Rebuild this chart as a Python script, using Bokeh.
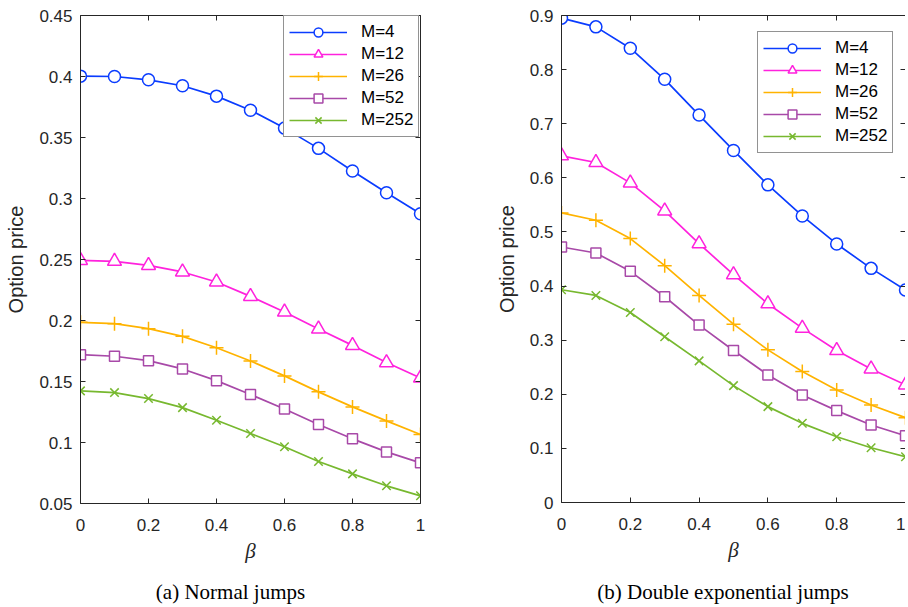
from bokeh.plotting import figure
from bokeh.layouts import row, column
from bokeh.models import LinearAxis, FixedTicker, Range1d, Div
from bokeh.embed import file_html
from bokeh.resources import INLINE

# ---------------- data ----------------
beta = [0.0, 0.1, 0.2, 0.3, 0.4, 0.5, 0.6, 0.7, 0.8, 0.9, 1.0]
series_labels = ["M=4", "M=12", "M=26", "M=52", "M=252"]

# (a) Normal jumps
normal_M4 = [0.4003, 0.4000, 0.3973, 0.3924, 0.3839, 0.3724, 0.3577, 0.3411, 0.3225, 0.3047, 0.2875]
normal_M12 = [0.2493, 0.2485, 0.2452, 0.2398, 0.2316, 0.2198, 0.2070, 0.1930, 0.1796, 0.1655, 0.1529]
normal_M26 = [0.1985, 0.1974, 0.1933, 0.1870, 0.1777, 0.1668, 0.1546, 0.1415, 0.1292, 0.1177, 0.1065]
normal_M52 = [0.1720, 0.1707, 0.1671, 0.1603, 0.1507, 0.1393, 0.1275, 0.1147, 0.1030, 0.0923, 0.0833]
normal_M252 = [0.1423, 0.1409, 0.1360, 0.1286, 0.1183, 0.1074, 0.0965, 0.0844, 0.0743, 0.0645, 0.0563]

# (b) Double exponential jumps
dexp_M4 = [0.8951, 0.8790, 0.8395, 0.7821, 0.7160, 0.6506, 0.5870, 0.5296, 0.4778, 0.4327, 0.3926]
dexp_M12 = [0.6407, 0.6284, 0.5907, 0.5389, 0.4784, 0.4210, 0.3673, 0.3222, 0.2809, 0.2469, 0.2173]
dexp_M26 = [0.5352, 0.5216, 0.4877, 0.4377, 0.3827, 0.3296, 0.2821, 0.2420, 0.2080, 0.1802, 0.1568]
dexp_M52 = [0.4722, 0.4611, 0.4272, 0.3802, 0.3278, 0.2809, 0.2358, 0.1988, 0.1698, 0.1432, 0.1235]
dexp_M252 = [0.3932, 0.3827, 0.3512, 0.3062, 0.2617, 0.2160, 0.1772, 0.1463, 0.1216, 0.1012, 0.0846]

x_ticks = [0, 0.2, 0.4, 0.6, 0.8, 1.0]
x_tick_labels = ["0", "0.2", "0.4", "0.6", "0.8", "1"]
yA_ticks = [0.05, 0.1, 0.15, 0.2, 0.25, 0.3, 0.35, 0.4, 0.45]
yA_tick_labels = ["0.05", "0.1", "0.15", "0.2", "0.25", "0.3", "0.35", "0.4", "0.45"]
yB_ticks = [0, 0.1, 0.2, 0.3, 0.4, 0.5, 0.6, 0.7, 0.8, 0.9]
yB_tick_labels = ["0", "0.1", "0.2", "0.3", "0.4", "0.5", "0.6", "0.7", "0.8", "0.9"]

captions = ["(a) Normal jumps", "(b) Double exponential jumps"]
x_label = "\u03b2"
y_label = "Option price"

# ---------------- styles ----------------
colors = ["#0a3cff", "#ff22dd", "#ffb300", "#a849a8", "#77b82f"]
markers = ["circle", "triangle", "cross", "square", "x"]
msizes = [12, 14, 14, 10, 12]
AX = "#262626"
SANS = "Liberation Sans"
SERIF = "Liberation Serif"


def style_axis(ax, ticks, labels, show_labels=True):
    ax.ticker = FixedTicker(ticks=ticks)
    ax.major_label_overrides = {t: l for t, l in zip(ticks, labels)}
    ax.minor_tick_line_color = None
    ax.major_tick_in = 5
    ax.major_tick_out = 0
    ax.axis_line_color = AX
    ax.major_tick_line_color = AX
    ax.axis_line_width = 1
    ax.major_label_text_color = AX
    ax.major_label_text_font = SANS
    ax.major_label_text_font_size = "17px"
    if not show_labels:
        # tick marks only: labels are not drawn and take (almost) no room
        ax.major_label_text_color = None
        ax.major_label_text_font_size = "1px"
        ax.major_label_standoff = 0


def make_panel(series, yticks, ylabels, y_range, width, height,
               frame_w, frame_h, b_left, b_right, b_top, b_bottom, legend_xy):
    p = figure(width=width, height=height, frame_width=frame_w, frame_height=frame_h,
               x_range=Range1d(0, 1.0), y_range=Range1d(*y_range),
               output_backend="svg", toolbar_location=None,
               min_border_left=b_left, min_border_right=b_right,
               min_border_top=b_top, min_border_bottom=b_bottom)
    p.grid.visible = False
    p.outline_line_color = None
    p.background_fill_color = "white"
    p.border_fill_color = "white"

    style_axis(p.xaxis[0], x_ticks, x_tick_labels)
    p.xaxis[0].major_label_standoff = 15
    p.xaxis[0].axis_label = x_label
    p.xaxis[0].axis_label_text_font = SERIF
    p.xaxis[0].axis_label_text_font_style = "italic"
    p.xaxis[0].axis_label_text_font_size = "21px"
    p.xaxis[0].axis_label_text_color = AX
    p.xaxis[0].axis_label_standoff = 5

    style_axis(p.yaxis[0], yticks, ylabels)
    p.yaxis[0].major_label_standoff = 8
    p.yaxis[0].axis_label = y_label
    p.yaxis[0].axis_label_text_font = SANS
    p.yaxis[0].axis_label_text_font_style = "normal"
    p.yaxis[0].axis_label_text_font_size = "20px"
    p.yaxis[0].axis_label_text_color = AX
    p.yaxis[0].axis_label_standoff = 9

    top = LinearAxis()
    style_axis(top, x_ticks, x_tick_labels, show_labels=False)
    p.add_layout(top, "above")
    rgt = LinearAxis()
    style_axis(rgt, yticks, ylabels, show_labels=False)
    p.add_layout(rgt, "right")

    for ys, lab, c, m, s in zip(series, series_labels, colors, markers, msizes):
        p.line(beta, ys, line_color=c, line_width=1.7, legend_label=lab)
        p.scatter(beta, ys, marker=m, size=s, line_color=c, line_width=1.5,
                  fill_color="white" if m in ("circle", "triangle", "square") else None,
                  legend_label=lab)

    lg = p.legend[0]
    lg.location = legend_xy
    lg.label_text_font = SANS
    lg.label_text_font_size = "17px"
    lg.label_text_color = "black"
    lg.glyph_width = 58
    lg.glyph_height = 22
    lg.label_height = 22
    lg.spacing = 0
    lg.padding = 5
    lg.label_standoff = 14
    lg.margin = 0
    lg.border_line_color = AX
    lg.border_line_width = 1
    lg.background_fill_color = "white"
    lg.background_fill_alpha = 1
    return p


pA = make_panel([normal_M4, normal_M12, normal_M26, normal_M52, normal_M252],
                yA_ticks, yA_tick_labels, (0.05, 0.45),
                461, 568, 340, 488, 80, 40, 13, 65, (203, 366))

pB = make_panel([dexp_M4, dexp_M12, dexp_M26, dexp_M52, dexp_M252],
                yB_ticks, yB_tick_labels, (0, 0.9),
                446, 568, 344, 487, 101, 0, 15, 64, (196, 349))

cap_style = {"font-family": SERIF, "font-size": "21px", "color": "black",
             "text-align": "center", "line-height": "24px", "padding-top": "14px"}
capA = Div(text=captions[0], width=461, height=38, margin=0, styles=dict(cap_style))
capB = Div(text=captions[1], width=446, height=38, margin=0,
           styles=dict(cap_style, **{"padding-left": "78px"}))

layout = column(row(pA, pB, spacing=0), row(capA, capB, spacing=0), spacing=0)
open("out.html", "w").write(file_html(layout, INLINE))
